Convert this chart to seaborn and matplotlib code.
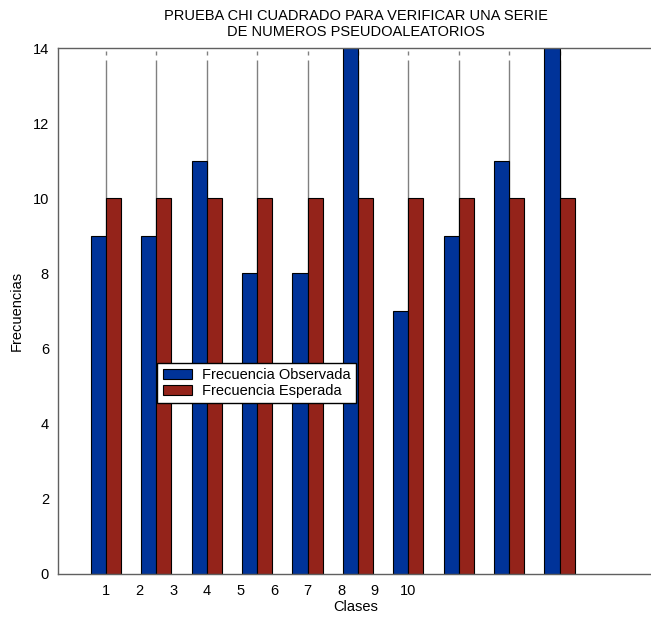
import matplotlib
matplotlib.use("Agg")
import matplotlib.pyplot as plt
import seaborn as sns
import pandas as pd

# datos
clases = [1, 2, 3, 4, 5, 6, 7, 8, 9, 10]
posiciones = [1, 2.5, 4, 5.5, 7, 8.5, 10, 11.5, 13, 14.5]
observada = [9, 9, 11, 8, 8, 14, 7, 9, 11, 14]
esperada = [10, 10, 10, 10, 10, 10, 10, 10, 10, 10]
series = ["Frecuencia Observada", "Frecuencia Esperada"]
colores = ["#003399", "#94231A"]

df = pd.DataFrame({
    "pos": posiciones * 2,
    "valor": observada + esperada,
    "serie": [series[0]] * len(posiciones) + [series[1]] * len(posiciones),
})

sns.set_style("white")
plt.rcParams["font.family"] = ["Liberation Sans", "DejaVu Sans"]
plt.rcParams["text.color"] = "black"
plt.rcParams["axes.labelcolor"] = "black"
plt.rcParams["xtick.color"] = "black"
plt.rcParams["ytick.color"] = "black"

fig = plt.figure(figsize=(6.51, 6.17), dpi=100)
ax = fig.add_axes([0.089, 0.0697, 0.915, 0.8525])

# lineas verticales grises detras de las barras
ax.vlines(posiciones, 0, 13.68, color="#808080", lw=1, zorder=0)
ax.vlines(posiciones, 13.82, 13.92, color="#808080", lw=1, zorder=0)

sns.barplot(data=df, x="pos", y="valor", hue="serie", native_scale=True,
            palette=colores, width=0.6, edgecolor="black", linewidth=0.8,
            saturation=1, ax=ax, zorder=2)

ax.set_xlim(-0.43, 17.3)
ax.set_ylim(0, 14)
ax.set_yticks(range(0, 15, 2))
ax.set_xticks(clases)
ax.set_xticklabels([str(c) for c in clases])
ax.tick_params(axis="both", labelsize=10.5, length=3, color="#808080", direction="out")
ax.tick_params(axis="x", length=0, pad=7)

for s in ["left", "bottom", "top"]:
    ax.spines[s].set_color("#606060")
    ax.spines[s].set_linewidth(1)
ax.spines["right"].set_visible(False)

ax.set_xlabel("Clases", fontsize=10.5, labelpad=2)
ax.set_ylabel("Frecuencias", fontsize=10.5, labelpad=6)
ax.set_title("PRUEBA CHI CUADRADO PARA VERIFICAR UNA SERIE\nDE NUMEROS PSEUDOALEATORIOS",
             fontsize=10.5, pad=9, linespacing=1.15)

leg = ax.legend(loc="lower left", bbox_to_anchor=(0.167, 0.325), fontsize=10.5,
                frameon=True, fancybox=False, edgecolor="black", framealpha=1,
                borderpad=0.35, labelspacing=0.15, handlelength=2.0, handletextpad=0.7,
                borderaxespad=0)
leg.get_frame().set_linewidth(1)

fig.savefig("out.png", dpi=100)
